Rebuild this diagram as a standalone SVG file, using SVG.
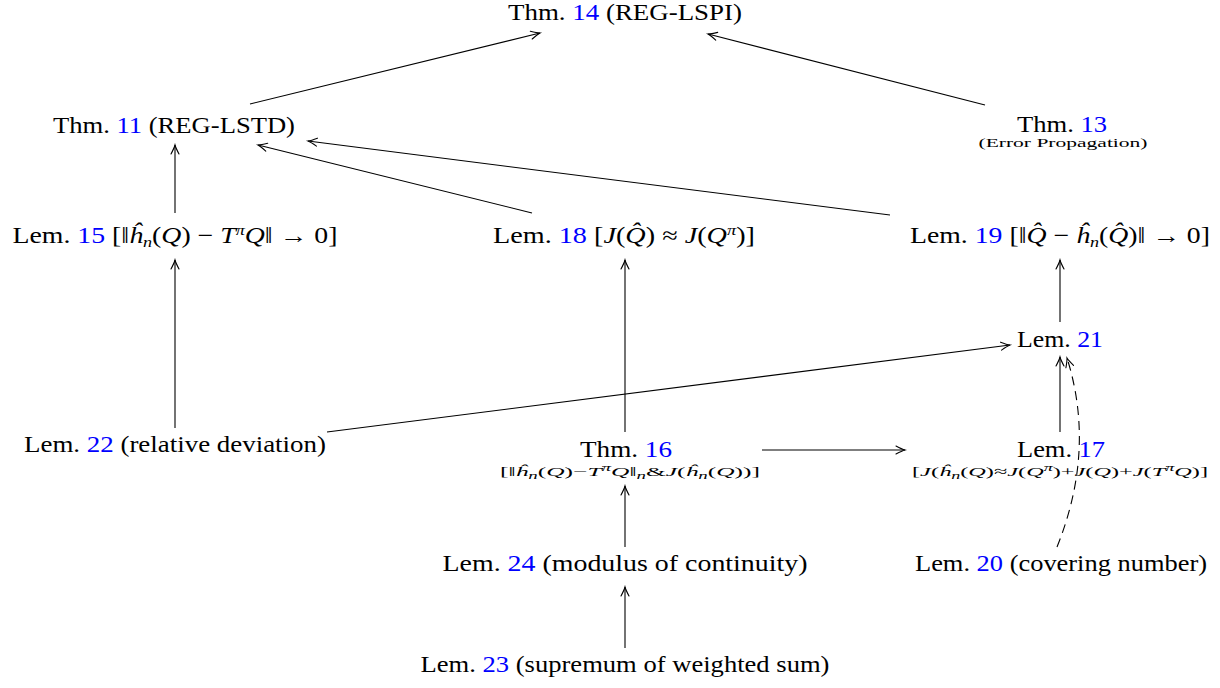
<svg xmlns="http://www.w3.org/2000/svg" width="1220" height="688" viewBox="0 0 1220 688">
<style>
  text { font-family: "Liberation Serif", "DejaVu Serif", serif; fill: #000; }
  .m { font-size: 23px; }
  .s { font-size: 13.5px; }
  .n { fill: #0000ff; }
  .i { font-style: italic; }
  .e { fill: none; stroke: #000; stroke-width: 1.1; marker-end: url(#arr); }
  .d { stroke-dasharray: 9 6; }
</style>
<defs>
  <marker id="arr" viewBox="-10 -6 12 12" markerWidth="12" markerHeight="12" refX="0" refY="0" orient="auto" markerUnits="userSpaceOnUse">
    <path d="M -9,-4 Q -3,-0.8 0,0 Q -3,0.8 -9,4" fill="none" stroke="#000" stroke-width="1.1" stroke-dasharray="none" stroke-linecap="round"/>
  </marker>
</defs>
<rect width="1220" height="688" fill="#fff"/>
<g id="edges">
  <path class="e" d="M 250,104 L 540,33"/>
  <path class="e" d="M 985,105 L 708,34"/>
  <path class="e" d="M 175,213 L 175,145"/>
  <path class="e" d="M 532,213 L 258,145"/>
  <path class="e" d="M 890,215 L 308,141"/>
  <path class="e" d="M 175,428 L 175,260"/>
  <path class="e" d="M 327,432 L 1010,345"/>
  <path class="e" d="M 625,432 L 625,260"/>
  <path class="e" d="M 1060,322 L 1060,260"/>
  <path class="e" d="M 762,450 L 905,450"/>
  <path class="e" d="M 1060,432 L 1060,357"/>
  <path class="e d" d="M 1057,547 Q 1096,450 1067,358"/>
  <path class="e" d="M 625,547 L 625,486"/>
  <path class="e" d="M 625,648 L 625,587"/>
</g>
<g id="thm14"><text class="m" x="625" y="20" text-anchor="middle" textLength="234" lengthAdjust="spacingAndGlyphs">Thm. <tspan class="n">14</tspan> (REG-LSPI)</text></g>
<g id="thm11"><text class="m" x="174" y="133" text-anchor="middle" textLength="242" lengthAdjust="spacingAndGlyphs">Thm. <tspan class="n">11</tspan> (REG-LSTD)</text></g>
<g id="thm13">
  <text class="m" x="1062" y="132" text-anchor="middle" textLength="90" lengthAdjust="spacingAndGlyphs">Thm. <tspan class="n">13</tspan></text>
  <text class="s" x="1063" y="147" text-anchor="middle" textLength="169" lengthAdjust="spacingAndGlyphs">(Error Propagation)</text>
</g>
<g id="lem15"><text class="m" x="175" y="243" text-anchor="middle" textLength="325" lengthAdjust="spacingAndGlyphs">Lem. <tspan class="n">15</tspan> [‖<tspan class="i">ĥ</tspan><tspan class="i" font-size="15" dy="4">n</tspan><tspan dy="-4">(</tspan><tspan class="i">Q</tspan>) − <tspan class="i">T</tspan><tspan class="i" font-size="15" dy="-8">π</tspan><tspan class="i" dy="8">Q</tspan>‖ → 0]</text></g>
<g id="lem18"><text class="m" x="624" y="243" text-anchor="middle" textLength="262" lengthAdjust="spacingAndGlyphs">Lem. <tspan class="n">18</tspan> [<tspan class="i">J</tspan>(<tspan class="i">Q̂</tspan>) ≈ <tspan class="i">J</tspan>(<tspan class="i">Q</tspan><tspan class="i" font-size="15" dy="-8">π</tspan><tspan dy="8">)]</tspan></text></g>
<g id="lem19"><text class="m" x="1060" y="243" text-anchor="middle" textLength="300" lengthAdjust="spacingAndGlyphs">Lem. <tspan class="n">19</tspan> [‖<tspan class="i">Q̂</tspan> − <tspan class="i">ĥ</tspan><tspan class="i" font-size="15" dy="4">n</tspan><tspan dy="-4">(</tspan><tspan class="i">Q̂</tspan>)‖ → 0]</text></g>
<g id="lem21"><text class="m" x="1060" y="347" text-anchor="middle" textLength="86" lengthAdjust="spacingAndGlyphs">Lem. <tspan class="n">21</tspan></text></g>
<g id="lem22"><text class="m" x="175" y="452" text-anchor="middle" textLength="302" lengthAdjust="spacingAndGlyphs">Lem. <tspan class="n">22</tspan> (relative deviation)</text></g>
<g id="thm16">
  <text class="m" x="626" y="457" text-anchor="middle" textLength="92" lengthAdjust="spacingAndGlyphs">Thm. <tspan class="n">16</tspan></text>
  <text class="s" x="630" y="476" text-anchor="middle" textLength="260" lengthAdjust="spacingAndGlyphs">[‖<tspan class="i">ĥ</tspan><tspan class="i" font-size="10" dy="3">n</tspan><tspan dy="-3">(</tspan><tspan class="i">Q</tspan>)−<tspan class="i">T</tspan><tspan class="i" font-size="10" dy="-5">π</tspan><tspan class="i" dy="5">Q</tspan>‖<tspan class="i" font-size="10" dy="3">n</tspan><tspan dy="-3">&amp;</tspan><tspan class="i">J</tspan>(<tspan class="i">ĥ</tspan><tspan class="i" font-size="10" dy="3">n</tspan><tspan dy="-3">(</tspan><tspan class="i">Q</tspan>))]</text>
</g>
<g id="lem17">
  <text class="m" x="1061" y="457" text-anchor="middle" textLength="88" lengthAdjust="spacingAndGlyphs">Lem. <tspan class="n">17</tspan></text>
  <text class="s" x="1060" y="476" text-anchor="middle" textLength="296" lengthAdjust="spacingAndGlyphs">[<tspan class="i">J</tspan>(<tspan class="i">ĥ</tspan><tspan class="i" font-size="10" dy="3">n</tspan><tspan dy="-3">(</tspan><tspan class="i">Q</tspan>)≈<tspan class="i">J</tspan>(<tspan class="i">Q</tspan><tspan class="i" font-size="10" dy="-5">π</tspan><tspan dy="5">)+</tspan><tspan class="i">J</tspan>(<tspan class="i">Q</tspan>)+<tspan class="i">J</tspan>(<tspan class="i">T</tspan><tspan class="i" font-size="10" dy="-5">π</tspan><tspan class="i" dy="5">Q</tspan>)]</text>
</g>
<g id="lem24"><text class="m" x="625" y="571" text-anchor="middle" textLength="365" lengthAdjust="spacingAndGlyphs">Lem. <tspan class="n">24</tspan> (modulus of continuity)</text></g>
<g id="lem20"><text class="m" x="1061" y="571" text-anchor="middle" textLength="292" lengthAdjust="spacingAndGlyphs">Lem. <tspan class="n">20</tspan> (covering number)</text></g>
<g id="lem23"><text class="m" x="625" y="672" text-anchor="middle" textLength="409" lengthAdjust="spacingAndGlyphs">Lem. <tspan class="n">23</tspan> (supremum of weighted sum)</text></g>
</svg>
